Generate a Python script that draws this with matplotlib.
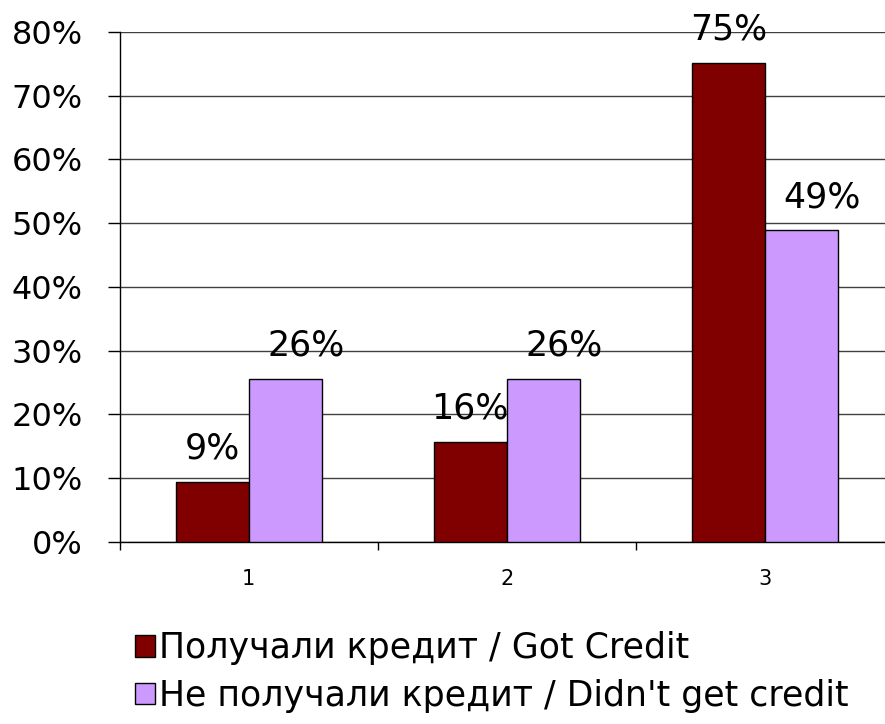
import matplotlib
matplotlib.use("Agg")
import matplotlib.pyplot as plt
from matplotlib.patches import Patch
import numpy as np

categories = ["1", "2", "3"]
got_credit = [9.4, 15.7, 75.2]
no_credit = [25.6, 25.6, 48.9]
series_names = ["Получали кредит / Got Credit", "Не получали кредит / Didn't get credit"]
yticks = [0, 10, 20, 30, 40, 50, 60, 70, 80]

dark_red = "#800000"
lavender = "#CC99FF"

fig = plt.figure(figsize=(8.85, 7.24), dpi=100)
ax = fig.add_axes([119.5 / 885, 1 - 541.7 / 724, (894 - 119.5) / 885, (541.7 - 32) / 724])

x = np.arange(len(categories))
w = 0.283
b1 = ax.bar(x - w / 2, got_credit, w, color=dark_red, edgecolor="black", linewidth=1, zorder=3)
b2 = ax.bar(x + w / 2, no_credit, w, color=lavender, edgecolor="black", linewidth=1, zorder=3)

# value labels above bars
for bars, vals, dx in [(b1, got_credit, 0), (b2, no_credit, 15)]:
    for r, v in zip(bars, vals):
        ax.annotate(f"{round(v)}%", (r.get_x() + r.get_width() / 2, v),
                    xytext=(dx, 16.5), textcoords="offset points",
                    ha="center", va="baseline", fontsize=25, zorder=4)

ax.set_xlim(-0.5, len(categories) - 0.5)
ax.set_ylim(0, 80)
ax.set_yticks(yticks)
ax.set_yticklabels([f"{t}%" for t in yticks])
ax.yaxis.grid(True, color="#404040", linewidth=1)
ax.set_axisbelow(True)

ax.set_xticks(x)
ax.set_xticklabels(categories)
ax.set_xticks(np.arange(-0.5, len(categories)), minor=True)
ax.tick_params(axis="x", which="major", length=0, pad=20, labelsize=15)
ax.tick_params(axis="x", which="minor", length=6, width=1, direction="out")
ax.tick_params(axis="y", length=8.6, width=1, direction="out", pad=18, labelsize=23)

for s in ["top", "right"]:
    ax.spines[s].set_visible(False)
ax.spines["left"].set_linewidth(1)
ax.spines["bottom"].set_linewidth(1)

handles = [Patch(facecolor=dark_red, edgecolor="black", linewidth=1),
           Patch(facecolor=lavender, edgecolor="black", linewidth=1)]
ax.legend(handles, series_names, loc="upper left",
          bbox_to_anchor=(135 / 885, 1 - 631 / 724), bbox_transform=fig.transFigure,
          frameon=False, borderpad=0, borderaxespad=0,
          prop={"family": "DejaVu Sans", "size": 25},
          handlelength=0.58, handleheight=0.58, handletextpad=0.12, labelspacing=0.4)

fig.savefig("out.png", dpi=100)
